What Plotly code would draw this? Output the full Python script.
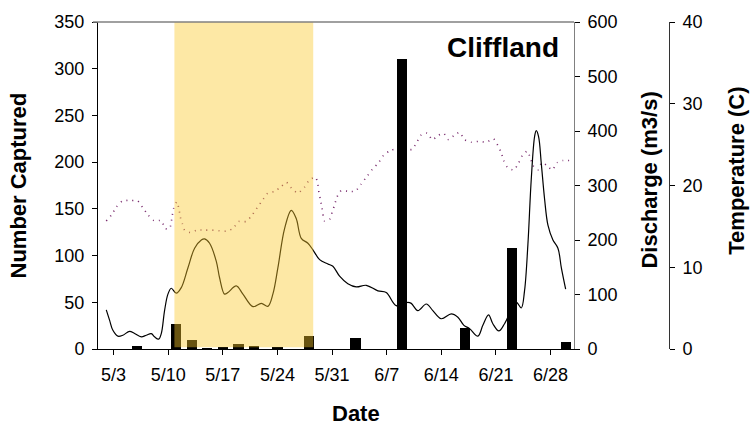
import pandas as pd
import plotly.graph_objects as go

# ---------------- data ----------------
season_start = pd.Timestamp("2008-05-01")

# fish captured per sampling day
catch_dates = ["2008-05-06", "2008-05-11", "2008-05-13", "2008-05-15", "2008-05-17",
               "2008-05-19", "2008-05-21", "2008-05-24", "2008-05-28", "2008-06-03",
               "2008-06-09", "2008-06-17", "2008-06-23", "2008-06-30"]
catch_counts = [3, 27, 10, 1, 2, 5, 3, 2, 14, 12, 310, 23, 108, 8]

# river discharge (m3/s), time given as days since 1 May
discharge_day = [1.06, 1.49, 1.91, 2.55, 3.19, 4.05, 4.69, 5.55, 6.19, 6.83, 7.25, 7.77,
                 8.11, 8.53, 8.96, 9.39, 10.03, 10.67, 11.52, 12.38, 13.24, 13.66, 14.30,
                 15.16, 15.58, 16.22, 16.65, 17.72, 18.57, 19.85, 20.93, 21.77, 22.41,
                 23.05, 23.91, 24.77, 25.41, 26.05, 26.90, 27.54, 28.40, 29.46, 30.10,
                 30.96, 32.02, 33.10, 34.38, 35.87, 36.94, 38.22, 39.71, 40.15, 40.99,
                 42.07, 42.91, 43.99, 45.27, 46.12, 46.89, 47.62, 48.68, 49.32, 50.05,
                 50.60, 51.37, 52.10, 53.60, 54.24, 54.66, 55.09, 55.52, 55.95, 56.16,
                 56.46, 56.80, 57.23, 57.66, 58.30, 58.94, 59.38, 59.93]
discharge_cms = [71.7, 52.4, 34.3, 23.5, 25.3, 32.5, 28.3, 22.3, 25.3, 28.3, 22.3, 18.1,
                 28.3, 70.5, 100.7, 111.5, 102.4, 112.6, 148.7, 184.9, 200.0, 202.0, 194.0,
                 160.8, 130.7, 100.7, 103.6, 115.7, 100.7, 77.7, 83.7, 78.3, 100.7,
                 148.7, 221.0, 254.3, 239.0, 203.0, 194.0, 182.0, 164.0, 156.0, 151.8,
                 133.7, 119.8, 113.9, 116.9, 106.6, 103.6, 79.5, 85.5, 83.7, 70.5,
                 82.6, 70.5, 55.5, 64.5, 58.4, 43.4, 37.4, 23.5, 43.4, 62.7,
                 46.4, 33.1, 46.4, 85.5, 75.3, 106.6, 191.0, 311.0, 389.8, 400.7,
                 389.8, 341.6, 275.2, 227.2, 200.0, 184.9, 148.7, 109.7]

# water temperature (C), time given as days since 1 May
temp_day = [1.06, 1.78, 2.34, 3.19, 4.14, 5.04, 5.75, 6.39, 7.16, 8.11, 8.62, 9.17,
            9.52, 9.69, 10.11, 10.37, 10.55, 10.80, 11.10, 11.83, 12.67, 13.66, 14.60,
            15.58, 16.44, 17.29, 18.05, 19.00, 19.77, 20.41, 21.05, 21.77, 22.63,
            23.49, 24.13, 24.77, 25.61, 26.47, 27.11, 27.88, 28.18, 28.31, 28.49,
            28.69, 28.82, 29.04, 29.68, 30.02, 30.32, 30.61, 31.18, 32.02, 32.97,
            33.74, 34.38, 35.15, 35.96, 36.60, 37.50, 38.40, 39.30, 40.22, 40.86,
            41.43, 42.19, 42.84, 43.55, 44.28, 44.93, 45.60, 46.34, 46.98, 47.83,
            48.81, 49.76, 50.69, 51.24, 51.68, 51.97, 52.45, 53.29, 53.93, 54.37,
            55.01, 55.40, 55.73, 56.37, 56.88, 57.52, 58.21, 58.85, 59.57, 60.72]
temp_c = [15.66, 16.47, 17.35, 18.15, 18.15, 18.15, 17.27, 16.42, 15.7, 15.7, 14.73, 14.73,
          16.35, 17.2, 18.0, 17.15, 16.14, 15.34, 14.54, 14.25, 14.54, 14.54, 14.54,
          14.46, 14.42, 14.73, 15.6, 15.6, 16.4, 17.3, 18.15, 19.07, 19.28,
          19.88, 20.4, 19.7, 19.07, 19.8, 20.7, 21.0, 20.1, 19.16, 18.3,
          17.35, 16.5, 15.66, 15.86, 16.8, 17.6, 18.55, 19.4, 19.3, 19.3,
          20.2, 21.0, 21.96, 22.8, 23.7, 24.3, 24.5, 24.5, 24.4, 25.3,
          26.2, 26.4, 25.6, 26.1, 26.4, 25.6, 26.1, 26.5, 25.6, 25.3,
          25.4, 25.3, 25.7, 24.9, 24.0, 23.1, 22.25, 21.9, 22.8, 23.65,
          24.2, 23.4, 22.45, 21.9, 22.8, 22.45, 21.9, 22.8, 23.05, 23.05]

tick_dates = ["2008-05-03", "2008-05-10", "2008-05-17", "2008-05-24", "2008-05-31",
              "2008-06-07", "2008-06-14", "2008-06-21", "2008-06-28"]
tick_labels = ["5/3", "5/10", "5/17", "5/24", "5/31", "6/7", "6/14", "6/21", "6/28"]

# sampling window highlighted on the chart
window_start = "2008-05-10 19:00"
window_end = "2008-05-28 14:00"

# ---------------- figure ----------------
discharge_x = [season_start + pd.Timedelta(days=d) for d in discharge_day]
temp_x = [season_start + pd.Timedelta(days=d) for d in temp_day]

FONT = "Liberation Sans, Arial, sans-serif"
W, H = 752, 430
ML, MR, MT, MB = 98, 40, 17, 81
PW, PH = W - ML - MR, H - MT - MB
PLOT_RIGHT = 574           # pixel x of the right edge of the plotting area
TEMP_AXIS_X = 669          # pixel x of the temperature axis


def px_x(px):
    return (px - ML) / PW


def px_y(py):
    return (H - MB - py) / PH


fig = go.Figure()

fig.add_trace(go.Scatter(
    x=temp_x, y=temp_c, yaxis="y", mode="lines",
    line=dict(color="#7a2c6e", width=1.6, dash="1px,5px", shape="spline", smoothing=0.6),
    hoverinfo="skip", showlegend=False))

fig.add_trace(go.Scatter(
    x=discharge_x, y=discharge_cms, yaxis="y2", mode="lines",
    line=dict(color="black", width=1.2, shape="spline", smoothing=1.0),
    hoverinfo="skip", showlegend=False))

fig.add_trace(go.Bar(
    x=catch_dates, y=catch_counts, yaxis="y3",
    width=1.3 * 86400000, marker=dict(color="black", line=dict(width=0)),
    showlegend=False))

axis_common = dict(showgrid=False, zeroline=False, ticks="outside", ticklen=5,
                   tickwidth=1, tickcolor="black",
                   tickfont=dict(family=FONT, size=18, color="black"))

fig.update_layout(
    width=W, height=H,
    margin=dict(l=ML, r=MR, t=MT, b=MB),
    paper_bgcolor="white", plot_bgcolor="white",
    font=dict(family=FONT, color="black"),
    bargap=0,
    xaxis=dict(type="date", range=["2008-05-01", "2008-07-01"],
               domain=[0, px_x(PLOT_RIGHT)],
               tickvals=tick_dates, ticktext=tick_labels,
               showline=True, linecolor="black", linewidth=1,
               ticklabelstandoff=4, **axis_common),
    yaxis=dict(range=[0, 40], dtick=10, side="right", anchor="free",
               position=px_x(TEMP_AXIS_X),
               showline=True, linecolor="#333333", linewidth=1,
               ticklabelstandoff=4, **axis_common),
    yaxis2=dict(range=[0, 600], dtick=100, side="right", overlaying="y", anchor="x",
                showline=True, linecolor="#808080", linewidth=1,
                ticklabelstandoff=4, **axis_common),
    yaxis3=dict(range=[0, 350], dtick=50, side="left", overlaying="y", anchor="x",
                showline=True, linecolor="black", linewidth=1,
                ticklabelstandoff=4, **axis_common),
)

# highlighted window, drawn translucent over the data
fig.add_shape(type="rect", xref="x", yref="y3",
              x0=window_start, x1=window_end, y0=2, y1=350,
              fillcolor="rgba(250,200,40,0.42)", line=dict(width=0), layer="above")

# top frame line of the plotting area
fig.add_shape(type="line", xref="paper", yref="paper",
              x0=px_x(93), x1=px_x(PLOT_RIGHT), y0=1, y1=1,
              line=dict(color="#808080", width=1.5))

title_font = dict(family=FONT, size=22, color="black")
fig.add_annotation(text="<b>Number Captured</b>", textangle=-90, showarrow=False,
                   xref="paper", yref="paper", x=px_x(18), y=px_y(183),
                   xanchor="center", yanchor="middle", font=title_font)
fig.add_annotation(text="<b>Date</b>", showarrow=False,
                   xref="paper", yref="paper", x=px_x(356), y=px_y(414),
                   xanchor="center", yanchor="middle", font=title_font)
fig.add_annotation(text="<b>Discharge (m3/s)</b>", textangle=-90, showarrow=False,
                   xref="paper", yref="paper", x=px_x(650), y=px_y(178),
                   xanchor="center", yanchor="middle", font=title_font)
fig.add_annotation(text="<b>Temperature (C)</b>", textangle=-90, showarrow=False,
                   xref="paper", yref="paper", x=px_x(737), y=px_y(168),
                   xanchor="center", yanchor="middle", font=title_font)
fig.add_annotation(text="<b>Cliffland</b>", showarrow=False,
                   xref="paper", yref="paper", x=px_x(561), y=px_y(43),
                   xanchor="right", yanchor="middle",
                   font=dict(family=FONT, size=28, color="black"))

fig.write_html("out.html")
